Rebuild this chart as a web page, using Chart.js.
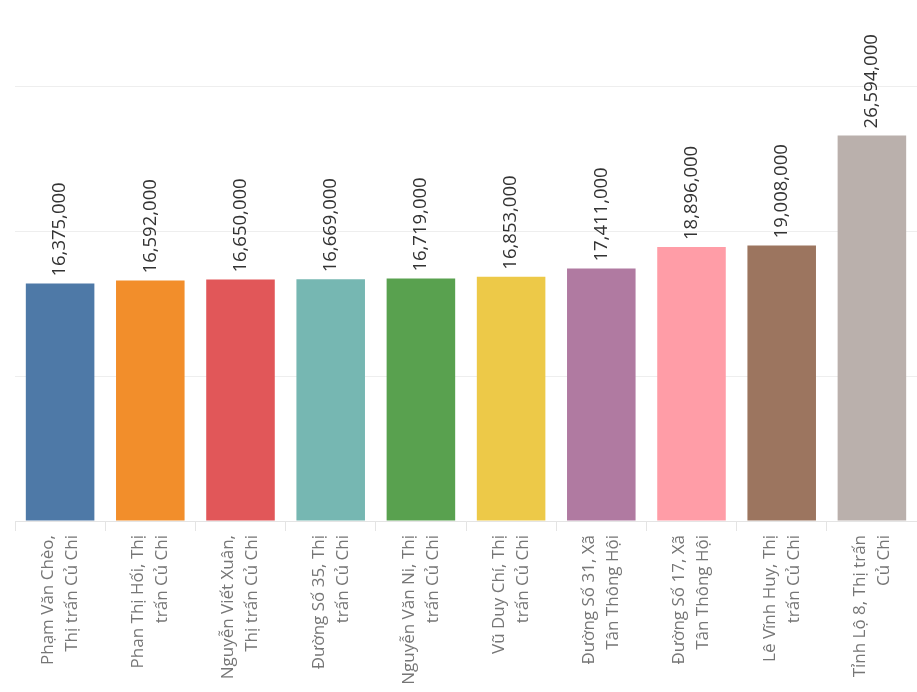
<!DOCTYPE html>
<html>
<head>
<meta charset="utf-8">
<script src="https://cdn.jsdelivr.net/npm/chart.js@4"></script>
<style>
    html, body { margin: 0; padding: 0; background: #fff; }
    #wrap { width: 917px; height: 692px; }
</style>
</head>
<body>
<div id="wrap"><canvas id="streetChart" width="917" height="692"></canvas></div>
<script>
// street names, split in two lines like the original axis
let streets = [
    ['Phạm Văn Chèo,', 'Thị trấn Củ Chi'],
    ['Phan Thị Hối, Thị', 'trấn Củ Chi'],
    ['Nguyễn Viết Xuân,', 'Thị trấn Củ Chi'],
    ['Đường Số 35, Thị', 'trấn Củ Chi'],
    ['Nguyễn Văn Ni, Thị', 'trấn Củ Chi'],
    ['Vũ Duy Chí, Thị', 'trấn Củ Chi'],
    ['Đường Số 31, Xã', 'Tân Thông Hội'],
    ['Đường Số 17, Xã', 'Tân Thông Hội'],
    ['Lê Vĩnh Huy, Thị', 'trấn Củ Chi'],
    ['Tỉnh Lộ 8, Thị trấn', 'Củ Chi']
];

let prices = [16375000, 16592000, 16650000, 16669000, 16719000, 16853000, 17411000, 18896000, 19008000, 26594000];

let barColors = ['#4e79a7', '#f28e2b', '#e15759', '#76b7b2', '#59a14f', '#edc948', '#b07aa1', '#ff9da7', '#9c755f', '#bab0ac'];

let yTicks = [0, 10000000, 20000000, 30000000];

let fontFamily = '"Open Sans", "Noto Sans", sans-serif';

/**
 * Draws the rotated value above each bar
 */
let valueLabels = {
    id: 'valueLabels',
    afterDatasetsDraw(chart) {
        let ctx = chart.ctx;
        let meta = chart.getDatasetMeta(0);
        ctx.save();
        ctx.font = '18.5px ' + fontFamily;
        ctx.fillStyle = '#333333';
        ctx.textAlign = 'left';
        ctx.textBaseline = 'middle';
        meta.data.forEach(function (bar, i) {
            ctx.save();
            ctx.translate(bar.x, bar.y - 7);
            ctx.rotate(-Math.PI / 2);
            ctx.fillText(prices[i].toLocaleString('en-US'), 0, 0);
            ctx.restore();
        });
        ctx.restore();
    }
};

let ctx = document.getElementById('streetChart').getContext('2d');

let streetChart = new Chart(ctx, {
    type: 'bar',
    data: {
        labels: streets,
        datasets: [{
            data: prices,
            backgroundColor: barColors,
            barPercentage: 0.76,
            categoryPercentage: 1
        }]
    },
    options: {
        responsive: false,
        animation: false,
        layout: {
            padding: { top: 86, left: 15, right: -4, bottom: 0 }
        },
        plugins: {
            legend: { display: false },
            tooltip: { enabled: false }
        },
        scales: {
            x: {
                offset: true,
                grid: {
                    offset: true,
                    drawOnChartArea: false,
                    drawTicks: true,
                    tickLength: 10,
                    color: '#e4e4e4'
                },
                border: { display: true, color: '#e4e4e4' },
                ticks: {
                    minRotation: 90,
                    maxRotation: 90,
                    autoSkip: false,
                    padding: 4,
                    labelOffset: -12,
                    color: '#767676',
                    font: { family: fontFamily, size: 17, lineHeight: 1.41 }
                },
                afterFit: function (scale) {
                    scale.height = 171;
                    scale.paddingLeft = 0;
                    scale.paddingRight = 0;
                }
            },
            y: {
                min: 0,
                max: 30000000,
                afterBuildTicks: function (scale) {
                    scale.ticks = yTicks.map(v => ({ value: v }));
                },
                grid: {
                    color: '#eeeeee',
                    drawTicks: false
                },
                border: { display: false },
                ticks: { display: false },
                afterFit: function (scale) {
                    scale.width = 0;
                }
            }
        }
    },
    plugins: [valueLabels]
});
</script>
</body>
</html>
